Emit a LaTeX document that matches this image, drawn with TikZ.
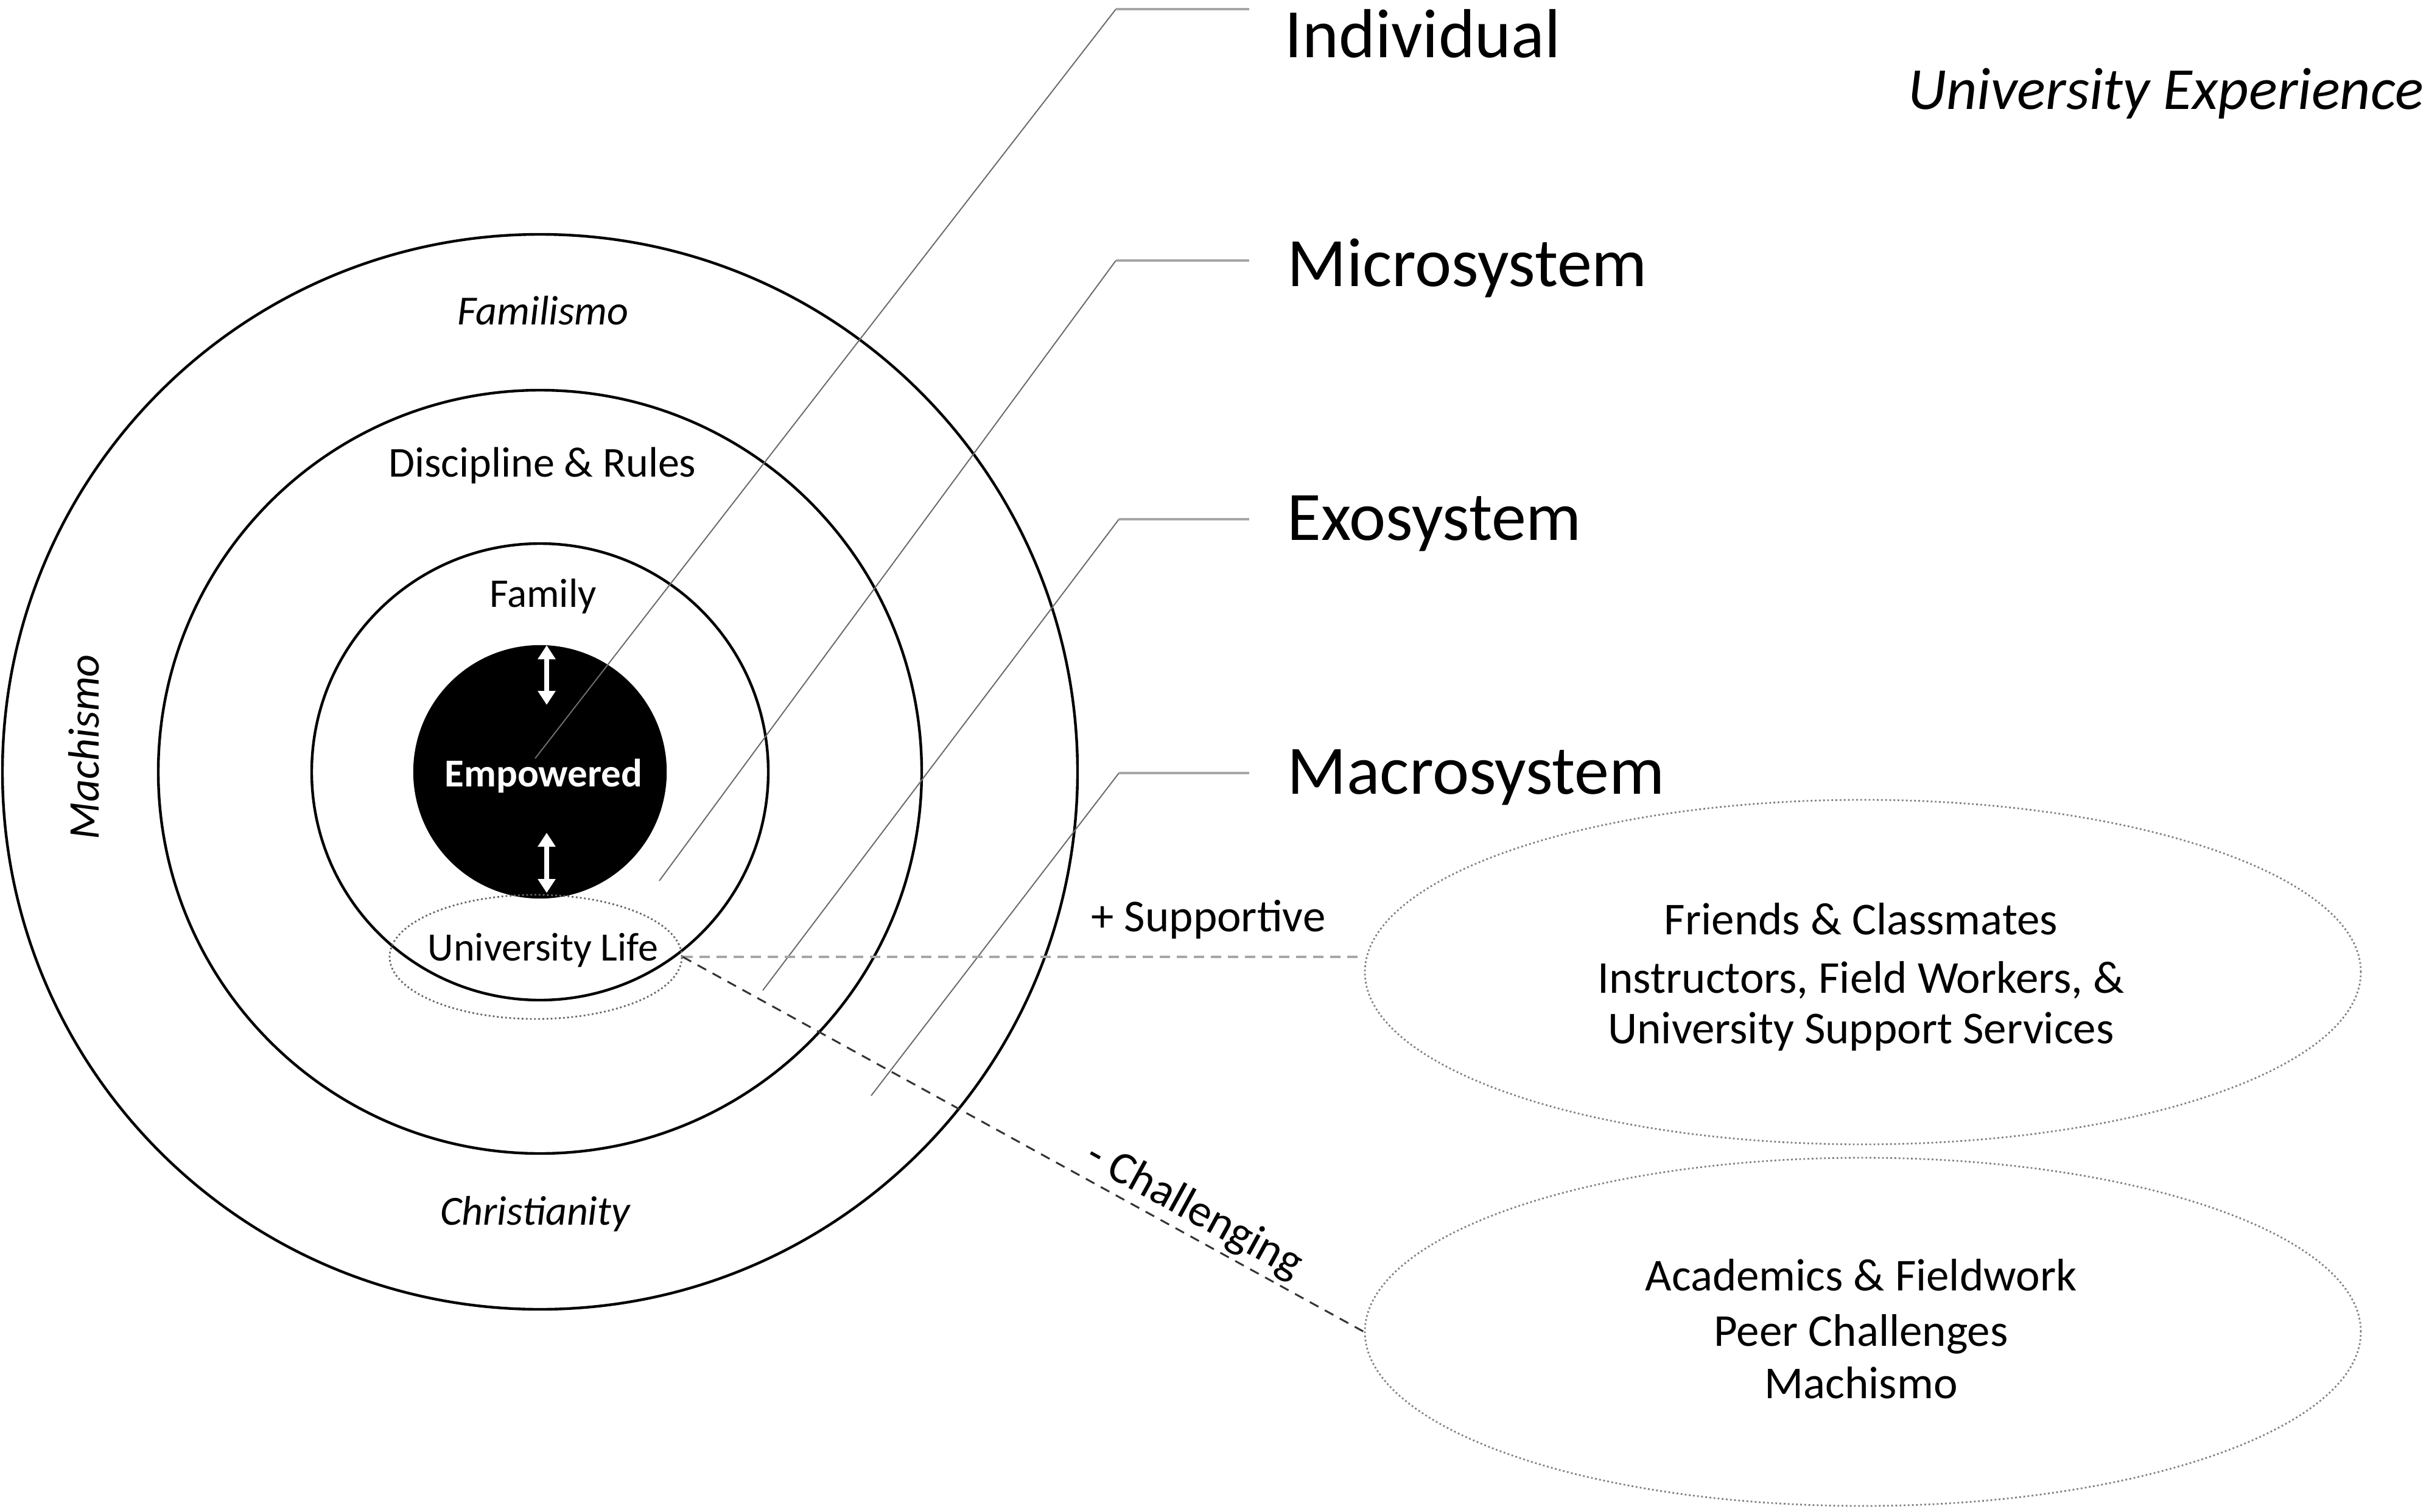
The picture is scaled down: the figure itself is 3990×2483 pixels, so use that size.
\documentclass[tikz,border=0pt]{standalone}
\usepackage{fontspec}
\setmainfont{Carlito}
\usetikzlibrary{arrows.meta,shapes.geometric}
\begin{document}
\begin{tikzpicture}[x=0.25pt,y=-0.25pt,
  ring/.style={circle,draw=black,line width=1.1pt,inner sep=0pt},
  grayell/.style={ellipse,draw=gray,line width=0.7pt,densely dotted,inner sep=0pt},
  leader/.style={draw=gray!85!black,line width=0.5pt},
  leaderh/.style={draw=gray!70,line width=1pt},
  biglab/.style={font=\fontsize{28.5pt}{34pt}\selectfont,anchor=base west,inner sep=0pt},
  ringlab/.style={font=\fontsize{17pt}{20pt}\selectfont\itshape,anchor=base,inner sep=0pt},
  innerlab/.style={font=\fontsize{17pt}{20pt}\selectfont,anchor=base,inner sep=0pt},
  elltext/.style={font=\fontsize{18.75pt}{22pt}\selectfont,anchor=base,inner sep=0pt},
  suppdash/.style={draw=gray!70,line width=1pt,dash pattern=on 4.2pt off 2.8pt},
  challdash/.style={draw=gray!40!black,line width=0.75pt,dash pattern=on 4pt off 3pt},
  whitearrow/.style={draw=white,line width=2pt,{Triangle[length=5.75pt,width=7pt]}-{Triangle[length=5.75pt,width=7pt]}}
]
\useasboundingbox (0,0) rectangle (3990,2483);

% rings
\node[ring,minimum size=441.5pt] (outer) at (887,1268) {};
\node[ring,minimum size=313.5pt] (exo) at (887,1268) {};
\node[ring,minimum size=187.5pt] (micro) at (887,1268) {};
\node[ring,fill=black,minimum size=103pt] (core) at (887,1268) {};

% University life ellipse
\node[grayell,draw=gray!80!black,minimum width=120pt,minimum height=51pt] (ule) at (880,1572) {};

% big ellipses
\node[grayell,minimum width=409pt,minimum height=141.5pt] (E1) at (3060,1597) {};
\node[grayell,minimum width=409pt,minimum height=143pt] (E2) at (3060,2188) {};

% leader lines
\coordinate (iA) at (879,1246);  \coordinate (iB) at (1833,15);   \coordinate (iC) at (2052,15);
\coordinate (mA) at (1083,1447); \coordinate (mB) at (1833,428);  \coordinate (mC) at (2052,428);
\coordinate (eA) at (1253,1627); \coordinate (eB) at (1838,853);  \coordinate (eC) at (2052,853);
\coordinate (aA) at (1431,1800); \coordinate (aB) at (1838,1270); \coordinate (aC) at (2052,1270);
\draw[leader] (iA) -- (iB); \draw[leaderh] (iB) -- (iC);
\draw[leader] (mA) -- (mB); \draw[leaderh] (mB) -- (mC);
\draw[leader] (eA) -- (eB); \draw[leaderh] (eB) -- (eC);
\draw[leader] (aA) -- (aB); \draw[leaderh] (aB) -- (aC);

% level labels
\node[biglab] (lInd) at (2110,95) {Individual};
\node[biglab] (lMic) at (2114,470) {Microsystem};
\node[biglab] (lExo) at (2114,887) {Exosystem};
\node[biglab] (lMac) at (2114,1304) {Macrosystem};
\node[font=\fontsize{24.5pt}{29pt}\selectfont\itshape,anchor=base east,inner sep=0pt] (uexp) at (3982,180) {University Experience};

% ring labels
\node[ringlab] (lFam) at (892,533) {Familismo};
\node[ringlab] (lChr) at (879,2012) {Christianity};
\node[ringlab,font=\fontsize{18pt}{21pt}\selectfont\itshape,rotate=90] (lMach) at (162,1227) {Machismo};
\node[innerlab,font=\fontsize{17.5pt}{21pt}\selectfont] (lDis) at (891,783) {Discipline \& Rules};
\node[innerlab,font=\fontsize{16.75pt}{20pt}\selectfont] (lFamily) at (892,997) {Family};
\node[innerlab,font=\fontsize{16.5pt}{20pt}\selectfont] (lUL) at (892,1578) {University Life};

% core
\node[anchor=base,inner sep=0pt,text=white,font=\fontsize{16.25pt}{20pt}\selectfont\bfseries] (lEmp) at (893,1292) {Empowered};
\coordinate (au1) at (898,1060); \coordinate (au2) at (898,1158);
\coordinate (al1) at (898,1368); \coordinate (al2) at (898,1467);
\draw[whitearrow] (au1) -- (au2);
\draw[whitearrow] (al1) -- (al2);

% dashed connectors
\draw[suppdash] (ule.east) -- (ule.east -| E1.west);
\draw[challdash] (ule.east) -- (E2.west);
\node[font=\fontsize{18.75pt}{22pt}\selectfont,anchor=base,inner sep=0pt] (lSup) at (1985,1530) {+ Supportive};
\node[font=\fontsize{18.75pt}{22pt}\selectfont,anchor=base,inner sep=0pt,rotate=-28.8] (lCh) at (1952,2006) {- Challenging};

% ellipse texts
\node[elltext] (f1) at (3057,1535) {Friends \& Classmates};
\node[elltext] (f2) at (3057,1631) {Instructors, Field Workers, \&};
\node[elltext] (f3) at (3057,1714) {University Support Services};
\node[elltext] (c1) at (3057,2120) {Academics \& Fieldwork};
\node[elltext] (c2) at (3057,2211) {Peer Challenges};
\node[elltext] (c3) at (3057,2297) {Machismo};
\end{tikzpicture}
\end{document}
